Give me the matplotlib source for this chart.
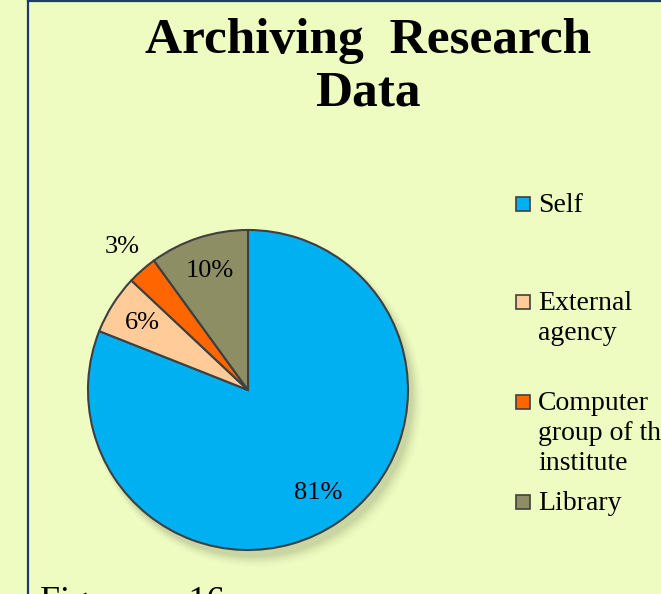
import matplotlib
matplotlib.use("Agg")
import matplotlib.pyplot as plt
from matplotlib.patches import Rectangle, Circle
import numpy as np

categories = ["Self", "External agency", "Computer group of the institute", "Library"]
legend_labels = ["Self", "External\nagency", "Computer\ngroup of the\ninstitute", "Library"]
values = [81, 6, 3, 10]
colors = ["#00B0F0", "#FFCC99", "#FF6600", "#8E8E64"]
title = "Archiving  Research\nData"

BG = "#EEFCC2"
W, H = 661, 594
fig = plt.figure(figsize=(W / 100, H / 100), dpi=100, facecolor=BG)
serif = ["Liberation Serif", "DejaVu Serif"]

# page border
fig.add_artist(plt.Line2D([28 / W, 28 / W], [0, 1], color="#1F3A6E", lw=1.6))
fig.add_artist(plt.Line2D([28 / W, 1], [1 - 1 / H, 1 - 1 / H], color="#1F3A6E", lw=1.6))

fig.text(368 / W, 1 - 18 / H, title, ha="center", va="top", fontsize=37,
         fontweight="bold", family=serif, linespacing=1.2)

cx, cy, r = 248, 390, 160
ax = fig.add_axes([(cx - r) / W, 1 - (cy + r) / H, 2 * r / W, 2 * r / H])
ax.set_facecolor("none")
# soft shadow
for k, a in enumerate(np.linspace(0.06, 0.015, 6)):
    ax.add_patch(Circle((0.03 + 0.004 * k, -0.045 - 0.004 * k), 1.0 + 0.008 * k,
                        color="#4A4A30", alpha=a, zorder=0, lw=0, clip_on=False))
wedges, texts, autotexts = ax.pie(values, colors=colors, startangle=90, counterclock=False,
                                  autopct="%d%%", pctdistance=0.78,
                                  wedgeprops=dict(edgecolor="#3F3F3F", linewidth=1.5),
                                  textprops=dict(fontsize=19, family=serif, color="black"))
for w in wedges:
    w.set_zorder(2)
    w.set_clip_on(False)
for t in autotexts:
    t.set_zorder(3)
# move small slice label outside
w = wedges[2]
mid = np.deg2rad((w.theta1 + w.theta2) / 2)
autotexts[2].set_position((1.19 * np.cos(mid), 1.19 * np.sin(mid)))
ax.set_xlim(-1, 1)
ax.set_ylim(-1, 1)
ax.set_aspect("equal")
ax.axis("off")

# legend
ys = [203, 301, 401, 501]
for lab, col, y in zip(legend_labels, colors, ys):
    fig.add_artist(Rectangle((516 / W, 1 - (y + 8) / H), 14 / W, 14 / H, facecolor=col,
                             edgecolor="#404040", lw=1.2, transform=fig.transFigure))
    fig.text(538 / W, 1 - (y - 10) / H, lab, ha="left", va="top", fontsize=20,
             family=serif, linespacing=1.25)

fig.text(40 / W, 1 - 586 / H, "Figure      16", ha="left", va="top", fontsize=26, family=serif)

fig.savefig("out.png", dpi=100, facecolor=BG)
